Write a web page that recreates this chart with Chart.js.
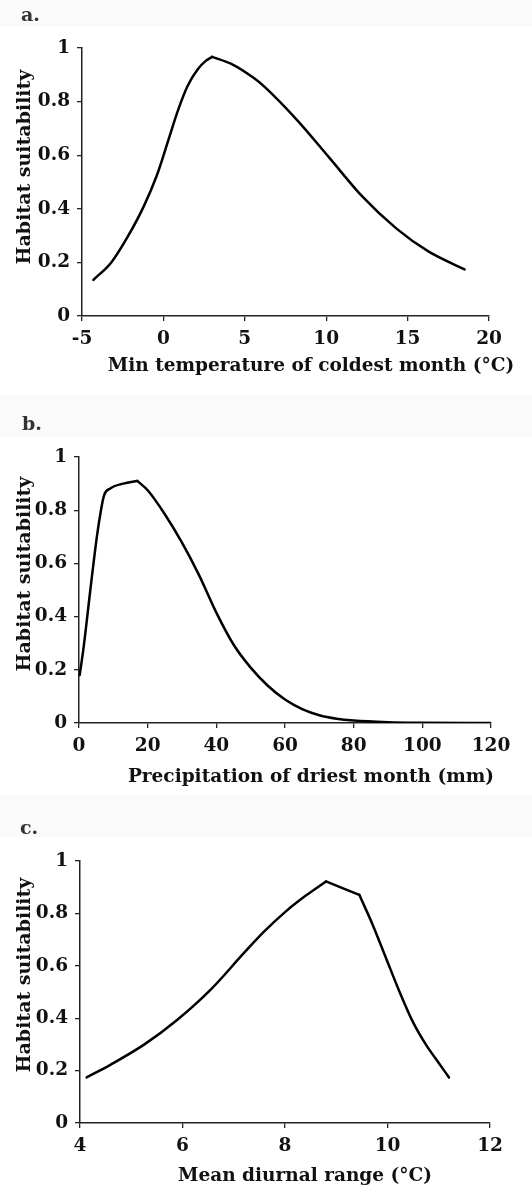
<!DOCTYPE html>
<html>
<head>
<meta charset="utf-8">
<script src="https://cdn.jsdelivr.net/npm/chart.js@4.4.0/dist/chart.umd.min.js"></script>
<style>
  html, body { margin: 0; padding: 0; background: #fff; }
  #fig { position: relative; width: 532px; height: 1193px; overflow: hidden;
         font-family: 'DejaVu Serif', serif; font-weight: bold; color: #111; }
  #fig canvas { position: absolute; left: 0; }
  .band { position: absolute; left: 0; width: 532px; background: #fafafa; }
  .letter { position: absolute; font-size: 19px; line-height: 19px; color: #333; white-space: nowrap; }
  .xt { position: absolute; font-size: 18.5px; line-height: 18px; white-space: nowrap; transform: translateX(-50%); }
  .yt { position: absolute; font-size: 19px; line-height: 18px; white-space: nowrap;
        transform: translate(-50%, -50%) rotate(-90deg); }
</style>
</head>
<body>
<div id="fig">
  <div class="band" style="top:0;height:27px"></div>
  <div class="band" style="top:395px;height:42px"></div>
  <div class="band" style="top:795px;height:42px"></div>

  <canvas id="chartA" width="532" height="395" style="top:0"></canvas>
  <canvas id="chartB" width="532" height="400" style="top:395px"></canvas>
  <canvas id="chartC" width="532" height="398" style="top:795px"></canvas>

  <div class="letter" style="left:21px;top:5px">a.</div>
  <div class="letter" style="left:22px;top:414px">b.</div>
  <div class="letter" style="left:20px;top:818px">c.</div>

  <div class="yt" style="left:23px;top:167px">Habitat suitability</div>
  <div class="yt" style="left:23px;top:574px">Habitat suitability</div>
  <div class="yt" style="left:23px;top:975px">Habitat suitability</div>

  <div class="xt" style="left:311px;top:356px">Min temperature of coldest month (°C)</div>
  <div class="xt" style="left:311px;top:767px">Precipitation of driest month (mm)</div>
  <div class="xt" style="left:305px;top:1166px">Mean diurnal range (°C)</div>
</div>

<script>
// a. min temperature of coldest month
const tempX = [-4.3, -3.2, -2.2, -1.2, -0.4, 0.3, 0.9, 1.5, 2.1, 2.6, 3.0, 4.2, 5.6, 6.2, 8.2, 10.2, 12.2, 14.3, 16.3, 18.5]
const suitA = [0.135, 0.20, 0.295, 0.41, 0.525, 0.655, 0.768, 0.86, 0.92, 0.952, 0.967, 0.94, 0.886, 0.856, 0.732, 0.59, 0.447, 0.327, 0.24, 0.174]
const peakA = [3.0]

// b. precipitation of driest month
const precipX = [0.2, 1.4, 3.3, 5.2, 6.4, 7.3, 9, 12.9, 17, 20, 25, 30, 35, 40, 45, 50, 55, 60, 65, 70, 75, 80, 90, 100, 120]
const suitB = [0.18, 0.29, 0.50, 0.70, 0.80, 0.856, 0.881, 0.90, 0.91, 0.875, 0.785, 0.678, 0.555, 0.415, 0.295, 0.208, 0.14, 0.088, 0.052, 0.029, 0.016, 0.009, 0.003, 0.001, 0]
const peakB = [17]

// c. mean diurnal range
const rangeX = [4.13, 4.6, 5.25, 5.9, 6.55, 7.2, 7.6, 8.0, 8.4, 8.8, 9.45, 9.71, 9.97, 10.23, 10.49, 10.75, 11.0, 11.2]
const suitC = [0.174, 0.223, 0.299, 0.394, 0.509, 0.649, 0.732, 0.805, 0.867, 0.922, 0.871, 0.757, 0.63, 0.503, 0.388, 0.299, 0.229, 0.174]
const peakC = [8.8, 9.45]

const tempTicks = [-5, 0, 5, 10, 15, 20]
const precipTicks = [0, 20, 40, 60, 80, 100, 120]
const rangeTicks = [4, 6, 8, 10, 12]
const suitTicks = [0, 0.2, 0.4, 0.6, 0.8, 1]

const tickFont = { family: 'DejaVu Serif', weight: 'bold', size: 18.5 }

// split the curve at its corners so the smoothing keeps them sharp
function pieces(xs, ys, breaks) {
  let out = [[]]
  xs.forEach((x, i) => {
    out[out.length - 1].push({ x: x, y: ys[i] })
    if (breaks.includes(x)) out.push([{ x: x, y: ys[i] }])
  })
  return out
}

function axis(ticks, size, isX) {
  return {
    type: 'linear',
    min: ticks[0],
    max: ticks[ticks.length - 1],
    afterBuildTicks: (s) => { s.ticks = ticks.map(v => ({ value: v })) },
    afterFit: (s) => { if (isX) s.height = size; else s.width = size },
    border: { display: true, color: '#222', width: 1.5 },
    grid: { drawOnChartArea: false, drawTicks: true, tickLength: 5, color: '#222', lineWidth: 1.3 },
    ticks: {
      autoSkip: false, maxRotation: 0,
      padding: isX ? 7 : 7,
      color: '#111',
      font: tickFont,
      callback: (v) => String(v)
    }
  }
}

function makeChart(id, xs, ys, breaks, xTicks, yWidth, xHeight, pad) {
  let ctx = document.getElementById(id).getContext('2d')
  return new Chart(ctx, {
    type: 'line',
    data: {
      datasets: pieces(xs, ys, breaks).map(pts => ({
        data: pts,
        borderColor: '#000',
        borderWidth: 2.5,
        borderCapStyle: 'round',
        borderJoinStyle: 'round',
        pointRadius: 0,
        fill: false,
        cubicInterpolationMode: 'monotone'
      }))
    },
    options: {
      responsive: false,
      animation: false,
      layout: { padding: pad },
      plugins: { legend: { display: false }, tooltip: { enabled: false } },
      scales: {
        x: axis(xTicks, xHeight, true),
        y: axis(suitTicks, yWidth, false)
      }
    }
  })
}

makeChart('chartA', tempX, suitA, peakA, tempTicks, 82, 79, { top: 48, right: 43, left: 0, bottom: 0 })
makeChart('chartB', precipX, suitB, peakB, precipTicks, 79, 72, { top: 62, right: 41, left: 0, bottom: 0 })
makeChart('chartC', rangeX, suitC, peakC, rangeTicks, 80, 70, { top: 66, right: 42, left: 0, bottom: 0 })
</script>
</body>
</html>
